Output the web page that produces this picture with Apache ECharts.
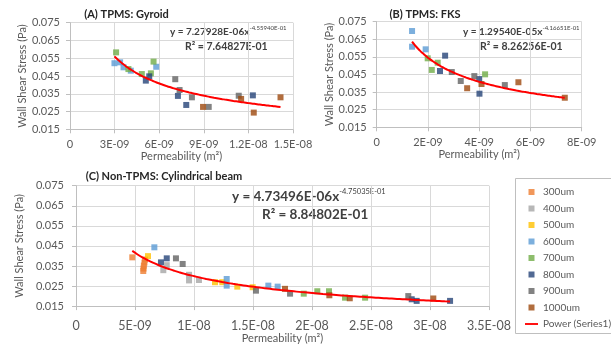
<!DOCTYPE html>
<html>
<head>
<meta charset="utf-8">
<script src="https://cdn.jsdelivr.net/npm/echarts@6/dist/echarts.min.js"></script>
<style>
  html, body { margin: 0; padding: 0; background: #fff; }
  #chart { width: 611px; height: 345px; }
</style>
</head>
<body>
<div id="chart"></div>
<script>
// size classes and their (Excel default) colours
const sizes = ['300um', '400um', '500um', '600um', '700um', '800um', '900um', '1000um'];
const sizeColors = ['#ED7D31', '#A5A5A5', '#FFC000', '#5B9BD5', '#70AD47', '#264478', '#636363', '#9E480E'];

// (A) TPMS: Gyroid  [permeability m2, wall shear stress Pa]
const gyroid600 = [[2.99e-9, 0.0522], [3.37e-9, 0.0527], [3.60e-9, 0.0499], [4.09e-9, 0.0480], [5.80e-9, 0.0502]];
const gyroid700 = [[3.10e-9, 0.0583], [3.93e-9, 0.0489], [4.83e-9, 0.0461], [5.44e-9, 0.0465], [5.62e-9, 0.0531]];
const gyroid800 = [[5.10e-9, 0.0424], [5.33e-9, 0.0448], [7.26e-9, 0.0338], [7.82e-9, 0.0287], [1.230e-8, 0.0341]];
const gyroid900 = [[7.08e-9, 0.0432], [7.37e-9, 0.0371], [8.20e-9, 0.0330], [9.33e-9, 0.0276], [1.135e-8, 0.0339]];
const gyroid1000 = [[8.95e-9, 0.0276], [1.151e-8, 0.0321], [1.236e-8, 0.0244], [1.416e-8, 0.0330]];

// (B) TPMS: FKS
const fks600 = [[1.38e-9, 0.0697], [1.38e-9, 0.0608], [1.91e-9, 0.0593]];
const fks700 = [[1.99e-9, 0.0542], [2.15e-9, 0.0476], [2.38e-9, 0.0517], [4.23e-9, 0.0451]];
const fks800 = [[2.47e-9, 0.0470], [2.67e-9, 0.0557], [4.00e-9, 0.0424], [4.01e-9, 0.0341]];
const fks900 = [[2.93e-9, 0.0464], [3.28e-9, 0.0413], [3.81e-9, 0.0441], [5.00e-9, 0.0390]];
const fks1000 = [[3.53e-9, 0.0372], [4.09e-9, 0.0396], [5.53e-9, 0.0406], [7.34e-9, 0.0318]];

// (C) Non-TPMS: Cylindrical beam
const beam300 = [[4.77e-9, 0.0393], [5.85e-9, 0.0382], [5.80e-9, 0.0367], [5.75e-9, 0.0352], [5.72e-9, 0.0337], [5.70e-9, 0.0325]];
const beam400 = [[7.40e-9, 0.0329], [7.69e-9, 0.0354], [9.58e-9, 0.0306], [9.58e-9, 0.0278], [1.042e-8, 0.0280]];
const beam500 = [[6.10e-9, 0.0399], [1.178e-8, 0.0269], [1.240e-8, 0.0269], [1.367e-8, 0.0247], [1.497e-8, 0.0244]];
const beam600 = [[6.64e-9, 0.0443], [1.277e-8, 0.0285], [1.277e-8, 0.0252], [1.630e-8, 0.0252], [1.709e-8, 0.0247]];
const beam700 = [[1.930e-8, 0.0212], [2.045e-8, 0.0224], [2.144e-8, 0.0224], [2.280e-8, 0.0192], [2.450e-8, 0.0192]];
const beam800 = [[7.20e-9, 0.0368], [7.69e-9, 0.0388], [2.845e-8, 0.0184], [2.887e-8, 0.0176], [3.170e-8, 0.0176]];
const beam900 = [[8.47e-9, 0.0388], [9.04e-9, 0.0360], [1.525e-8, 0.0227], [1.814e-8, 0.0212], [2.816e-8, 0.0200]];
const beam1000 = [[1.771e-8, 0.0236], [2.147e-8, 0.0204], [2.320e-8, 0.0189], [3.028e-8, 0.0188]];

// power trendlines y = a * x^b
const gyroidFit = [7.27928e-6, -4.55940e-1];
const fksFit = [1.29540e-5, -4.16651e-1];
const beamFit = [4.73496e-6, -4.75035e-1];

// axis ticks
const yTicks = [0.015, 0.025, 0.035, 0.045, 0.055, 0.065, 0.075];
const xTicksA = [0, 3e-9, 6e-9, 9e-9, 1.2e-8, 1.5e-8];
const xTicksB = [0, 2e-9, 4e-9, 6e-9, 8e-9];
const xTicksC = [0, 5e-9, 1e-8, 1.5e-8, 2e-8, 2.5e-8, 3e-8, 3.5e-8];

const FF = 'Lato, "Open Sans", sans-serif';
const TXT = '#595959';

function sci(v) {
  if (v === 0) return '0';
  const s = Number(v.toPrecision(6)).toExponential();
  const parts = s.split('e');
  const n = parseInt(parts[1], 10);
  return parts[0] + 'E' + (n < 0 ? '-' : '+') + String(Math.abs(n)).padStart(2, '0');
}

function trend(fit, pts) {
  const xs = pts.map(p => p[0]);
  const x0 = Math.min(...xs), x1 = Math.max(...xs);
  const out = [];
  for (let i = 0; i <= 60; i++) {
    const x = x0 + (x1 - x0) * i / 60;
    out.push([x, fit[0] * Math.pow(x, fit[1])]);
  }
  return out;
}

function xAxis(gi, ticks, fs, margin, gap) {
  return {
    type: 'value', gridIndex: gi,
    min: ticks[0], max: ticks[ticks.length - 1], interval: ticks[1] - ticks[0],
    name: 'Permeability (m²)', nameLocation: 'middle', nameGap: gap,
    nameTextStyle: {color: TXT, fontSize: 11, fontFamily: FF},
    axisLine: {show: true, onZero: false, lineStyle: {color: '#bfbfbf'}},
    axisTick: {show: true, length: 4, lineStyle: {color: '#bfbfbf'}},
    splitLine: {show: true, lineStyle: {color: '#d9d9d9'}},
    axisLabel: {color: TXT, fontSize: fs, fontFamily: FF, margin: margin, formatter: sci}
  };
}

function yAxis(gi, fs, margin, gap) {
  return {
    type: 'value', gridIndex: gi,
    min: yTicks[0], max: yTicks[yTicks.length - 1], interval: yTicks[1] - yTicks[0],
    name: 'Wall Shear Stress (Pa)', nameLocation: 'middle', nameGap: gap,
    nameTextStyle: {color: TXT, fontSize: 11, fontFamily: FF},
    axisLine: {show: true, lineStyle: {color: '#bfbfbf'}},
    axisTick: {show: true, length: 4, lineStyle: {color: '#bfbfbf'}},
    splitLine: {show: true, lineStyle: {color: '#d9d9d9'}},
    axisLabel: {color: TXT, fontSize: fs, fontFamily: FF, margin: margin, formatter: v => v.toFixed(3)}
  };
}

const SQ = 'path://M0,0L1,0L1,1L0,1Z';
const BAR = 'path://M0,0L14,0L14,2L0,2Z';
function pts(name, gi, data) {
  return {
    name: name, type: 'scatter', xAxisIndex: gi, yAxisIndex: gi,
    data: data, symbol: SQ, symbolSize: 6,
    itemStyle: {color: sizeColors[sizes.indexOf(name)]}
  };
}
function fitLine(gi, fit, data) {
  return {
    name: 'Power (Series1)', type: 'line', xAxisIndex: gi, yAxisIndex: gi, z: 3,
    data: trend(fit, data), showSymbol: false, symbol: 'none', smooth: true,
    lineStyle: {color: '#FF0000', width: 2}, itemStyle: {color: '#FF0000'}
  };
}

function eq(x, y, main, sup, fs, sfs, lh) {
  return {
    type: 'text', x: x, y: y,
    style: {
      text: '{m|' + main + '}' + (sup ? '{s|' + sup + '}' : ''),
      verticalAlign: 'middle',
      rich: {
        m: {font: 'bold ' + fs + 'px ' + FF, fontSize: fs, fontWeight: 'bold', fontFamily: FF, fill: '#404040', lineHeight: lh},
        s: {font: sfs + 'px ' + FF, fontSize: sfs, fontFamily: FF, fill: '#404040', lineHeight: sfs + 1, verticalAlign: 'top'}
      }
    }
  };
}
function title(x, y, t) {
  return {
    type: 'text', x: x, y: y,
    style: {text: t, font: 'bold 11px ' + FF, fill: '#262626', align: 'center', verticalAlign: 'middle'}
  };
}

const chart = echarts.init(document.getElementById('chart'));
const gyAll = [].concat(gyroid600, gyroid700, gyroid800, gyroid900, gyroid1000);
const fkAll = [].concat(fks600, fks700, fks800, fks900, fks1000);
const bmAll = [].concat(beam300, beam400, beam500, beam600, beam700, beam800, beam900, beam1000);

chart.setOption({
  animation: false,
  backgroundColor: '#fff',
  textStyle: {fontFamily: FF},
  grid: [
    {left: 70, top: 22.7, width: 223, height: 106.6},
    {left: 376.7, top: 21.7, width: 205, height: 105.6},
    {left: 76, top: 185.7, width: 413, height: 121}
  ],
  xAxis: [
    xAxis(0, xTicksA, 11, 10, 20),
    xAxis(1, xTicksB, 11, 10, 20),
    xAxis(2, xTicksC, 12.5, 13, 24)
  ],
  yAxis: [
    yAxis(0, 11, 10, 33),
    yAxis(1, 11, 10, 33),
    yAxis(2, 11, 12, 38)
  ],
  legend: {
    orient: 'vertical', left: 520, top: 182,
    itemWidth: 13, itemHeight: 6, itemGap: 6.5,
    symbolKeepAspect: true,
    selectedMode: false,
    textStyle: {color: TXT, fontSize: 10, fontFamily: FF},
    data: sizes.map(s => ({name: s, icon: SQ})).concat([{name: 'Power (Series1)', icon: BAR}])
  },
  graphic: [
    {type: 'rect', shape: {x: 515.5, y: 178.5, width: 100, height: 155}, style: {fill: 'none', stroke: '#bfbfbf', lineWidth: 1}},
    title(126.5, 14, '(A) TPMS: Gyroid'),
    title(425, 14, '(B) TPMS: FKS'),
    title(164, 176, '(C) Non-TPMS: Cylindrical beam'),
    eq(170, 32, 'y = 7.27928E-06x', '-4.55940E-01', 10, 6, 14),
    eq(185, 46.5, 'R² = 7.64827E-01', '', 10.5, 6, 14),
    eq(463, 32, 'y = 1.29540E-05x', '-4.16651E-01', 10, 6, 14),
    eq(480, 47, 'R² = 8.26256E-01', '', 10.5, 6, 14),
    eq(232, 197, 'y = 4.73496E-06x', '-4.75035E-01', 13.5, 7.5, 18),
    eq(262, 215, 'R² = 8.84802E-01', '', 13.5, 7.5, 18)
  ],
  series: [
    pts('600um', 0, gyroid600), pts('700um', 0, gyroid700), pts('800um', 0, gyroid800),
    pts('900um', 0, gyroid900), pts('1000um', 0, gyroid1000),
    fitLine(0, gyroidFit, gyAll),
    pts('600um', 1, fks600), pts('700um', 1, fks700), pts('800um', 1, fks800),
    pts('900um', 1, fks900), pts('1000um', 1, fks1000),
    fitLine(1, fksFit, fkAll),
    pts('300um', 2, beam300), pts('400um', 2, beam400), pts('500um', 2, beam500),
    pts('600um', 2, beam600), pts('700um', 2, beam700), pts('800um', 2, beam800),
    pts('900um', 2, beam900), pts('1000um', 2, beam1000),
    fitLine(2, beamFit, bmAll)
  ]
});
</script>
</body>
</html>
